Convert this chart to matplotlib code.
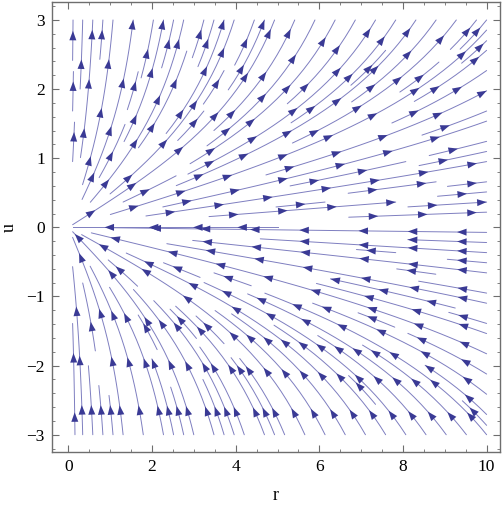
"""
Phase portrait of the (r, u) system drawn as a stream plot with
Mathematica-style arrows placed at regular intervals along each line.
"""

import numpy as np
import matplotlib
matplotlib.use("Agg")  # no display available
import matplotlib.pyplot as plt
from matplotlib.collections import LineCollection
from matplotlib.patches import Polygon
from matplotlib.ticker import MultipleLocator

# ============================================================================
# Data: domain, field coefficients, ticks
# ============================================================================

r_range = (0.1, 10.0)
u_range = (-3.0, 3.0)

# dr/dt = r*u ,  du/dt = u^2 * (1 + cubic * u^2)
cubic = 0.17

# invariant line u = 0, traced leftwards from r = 5
axis_line_r = [5.0, 0.1]
axis_line_u = [0.0, 0.0]

r_ticks = [0, 2, 4, 6, 8, 10]
u_ticks = [-3, -2, -1, 0, 1, 2, 3]
u_tick_labels = ["\u22123", "\u22122", "\u22121", "0", "1", "2", "3"]

LINE_COLOR = "#7e7ec0"
ARROW_COLOR = "#3a3a95"
FRAME_COLOR = "#6e6e6e"


def field(rr, uu):
    return rr * uu, uu ** 2 * (1 + cubic * uu ** 2)


# ============================================================================
# Figure
# ============================================================================

plt.rcParams["font.family"] = ["Liberation Serif", "DejaVu Serif"]

fig = plt.figure(figsize=(5.04, 5.07), dpi=100)
ax = fig.add_axes([51.7 / 504, 55 / 507, (500 - 51.7) / 504, (452 - 2) / 507])
ax.set_xlim(-0.40, 10.32)
ax.set_ylim(-3.25, 3.26)

r = np.linspace(*r_range, 400)
u = np.linspace(*u_range, 400)
R, U = np.meshgrid(r, u)
dR, dU = field(R, U)

sp = ax.streamplot(
    r, u, dR, dU,
    density=1.4, color=LINE_COLOR, linewidth=0.7,
    arrowsize=0.01, maxlength=10, minlength=0.08,
)


def split_trajectories(segments):
    """Join the per-step segments of a streamplot back into whole lines."""
    out, cur = [], None
    for seg in segments:
        seg = np.asarray(seg)
        if cur is not None and np.allclose(seg[0], cur[-1]):
            cur.extend(seg[1:])
        else:
            if cur is not None:
                out.append(np.array(cur))
            cur = list(seg)
    if cur is not None:
        out.append(np.array(cur))
    return out


# whole lines; drop the stray pieces hugging the u = 0 axis (drawn below)
trajs = [t for t in split_trajectories(sp.lines.get_segments())
         if np.abs(t[:, 1]).mean() > 0.04]

# replace matplotlib's stream artists by the cleaned lines
sp.lines.remove()
for p in list(ax.patches):
    p.remove()
ax.add_collection(LineCollection(trajs, colors=LINE_COLOR, linewidths=0.7,
                                 capstyle="round", joinstyle="round"))
ax.plot(axis_line_r, axis_line_u, color=LINE_COLOR, linewidth=0.7)

sx = ax.transData.transform([1, 0])[0] - ax.transData.transform([0, 0])[0]
sy = ax.transData.transform([0, 1])[1] - ax.transData.transform([0, 0])[1]


def add_arrows(traj, spacing=52.0, offset=22.0, head_len=9.5, head_w=7.0,
               flow=None):
    """Filled triangles every `spacing` pixels along a line (data coords)."""
    to_data = ax.transData.inverted()
    disp = ax.transData.transform(traj)
    d = np.hypot(*np.diff(disp, axis=0).T)
    s = np.concatenate([[0.0], np.cumsum(d)])
    if s[-1] < 18:
        return
    pos = offset
    while pos < s[-1] - 2:
        i = min(np.searchsorted(s, pos), len(s) - 1)
        j = i
        while j > 0 and s[i] - s[j] < head_len:
            j -= 1
        vec = disp[i] - disp[j]
        n = np.hypot(*vec)
        if n > 0:
            vec = vec / n
            # point the head along the local flow
            if flow is None:
                fr, fu = field(traj[i, 0], traj[i, 1])
                fdir = np.array([fr * sx, fu * sy])
            else:
                fdir = np.asarray(flow, float)
            if vec @ fdir < 0:
                vec = -vec
                tip = disp[j]
            else:
                tip = disp[i]
            nrm = np.array([-vec[1], vec[0]])
            base = tip - head_len * vec
            tri = np.array([tip, base + nrm * head_w / 2, base - nrm * head_w / 2])
            ax.add_patch(Polygon(to_data.transform(tri), closed=True,
                                 facecolor=ARROW_COLOR, edgecolor="none",
                                 zorder=3))
        pos += spacing


for t in trajs:
    add_arrows(t)

# axis line: dense points so arrows can be placed along it
axis_traj = np.column_stack([np.linspace(*axis_line_r, 200),
                             np.linspace(*axis_line_u, 200)])
add_arrows(axis_traj, offset=40.0, spacing=44.0, flow=(-1.0, 0.0))

# ============================================================================
# Frame, ticks, labels
# ============================================================================

ax.set_xticks(r_ticks)
ax.set_yticks(u_ticks)
ax.set_yticklabels(u_tick_labels)
ax.xaxis.set_minor_locator(MultipleLocator(0.5))
ax.yaxis.set_minor_locator(MultipleLocator(0.2))
ax.tick_params(which="both", direction="in", top=True, right=True,
               color=FRAME_COLOR, labelsize=12.5, pad=5)
ax.tick_params(which="major", length=5, width=0.8)
ax.tick_params(which="minor", length=2.5, width=0.6)
for sp_ in ax.spines.values():
    sp_.set_color(FRAME_COLOR)
    sp_.set_linewidth(1.0)

ax.set_xlabel("r", fontsize=13, labelpad=9)
ax.set_ylabel("u", fontsize=13)
ax.yaxis.set_label_coords(-0.075, 0.5)

fig.savefig("out.png", dpi=100)
